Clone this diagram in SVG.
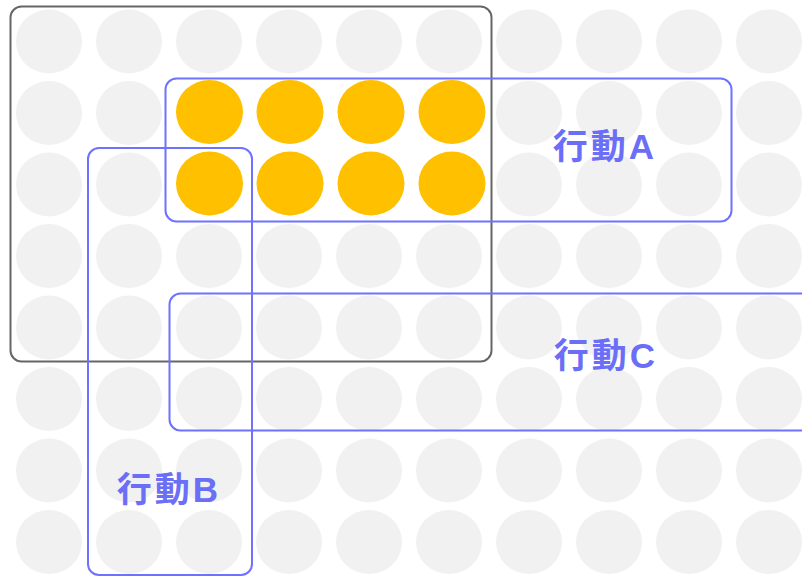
<svg xmlns="http://www.w3.org/2000/svg" width="802" height="576" viewBox="0 0 802 576">
<style>
.dot{fill:#f1f1f1}
.on{fill:#ffc000}
.box{fill:none;stroke:#6e72ff;stroke-width:2}
.outer{fill:none;stroke:#666;stroke-width:2}
.lbl{font-family:"Liberation Sans","Noto Sans CJK TC",sans-serif;font-weight:bold;font-size:35px;fill:#6b6ef7;text-anchor:middle;letter-spacing:3px}
</style>
<rect width="802" height="576" fill="#fff"/>
<g id="grid">
<g id="row1"><ellipse class="dot" cx="49" cy="41.5" rx="33" ry="32"/><ellipse class="dot" cx="129" cy="41.5" rx="33" ry="32"/><ellipse class="dot" cx="209" cy="41.5" rx="33" ry="32"/><ellipse class="dot" cx="289" cy="41.5" rx="33" ry="32"/><ellipse class="dot" cx="369" cy="41.5" rx="33" ry="32"/><ellipse class="dot" cx="449" cy="41.5" rx="33" ry="32"/><ellipse class="dot" cx="529" cy="41.5" rx="33" ry="32"/><ellipse class="dot" cx="609" cy="41.5" rx="33" ry="32"/><ellipse class="dot" cx="689" cy="41.5" rx="33" ry="32"/><ellipse class="dot" cx="769" cy="41.5" rx="33" ry="32"/></g>
<g id="row2"><ellipse class="dot" cx="49" cy="113" rx="33" ry="32"/><ellipse class="dot" cx="129" cy="113" rx="33" ry="32"/><ellipse class="on" cx="209.5" cy="112" rx="33.5" ry="32"/><ellipse class="on" cx="290" cy="112" rx="33.5" ry="32"/><ellipse class="on" cx="371" cy="112" rx="33.5" ry="32"/><ellipse class="on" cx="452" cy="112" rx="33.5" ry="32"/><ellipse class="dot" cx="529" cy="113" rx="33" ry="32"/><ellipse class="dot" cx="609" cy="113" rx="33" ry="32"/><ellipse class="dot" cx="689" cy="113" rx="33" ry="32"/><ellipse class="dot" cx="769" cy="113" rx="33" ry="32"/></g>
<g id="row3"><ellipse class="dot" cx="49" cy="184.5" rx="33" ry="32"/><ellipse class="dot" cx="129" cy="184.5" rx="33" ry="32"/><ellipse class="on" cx="209.5" cy="183.5" rx="33.5" ry="32"/><ellipse class="on" cx="290" cy="183.5" rx="33.5" ry="32"/><ellipse class="on" cx="371" cy="183.5" rx="33.5" ry="32"/><ellipse class="on" cx="452" cy="183.5" rx="33.5" ry="32"/><ellipse class="dot" cx="529" cy="184.5" rx="33" ry="32"/><ellipse class="dot" cx="609" cy="184.5" rx="33" ry="32"/><ellipse class="dot" cx="689" cy="184.5" rx="33" ry="32"/><ellipse class="dot" cx="769" cy="184.5" rx="33" ry="32"/></g>
<g id="row4"><ellipse class="dot" cx="49" cy="256" rx="33" ry="32"/><ellipse class="dot" cx="129" cy="256" rx="33" ry="32"/><ellipse class="dot" cx="209" cy="256" rx="33" ry="32"/><ellipse class="dot" cx="289" cy="256" rx="33" ry="32"/><ellipse class="dot" cx="369" cy="256" rx="33" ry="32"/><ellipse class="dot" cx="449" cy="256" rx="33" ry="32"/><ellipse class="dot" cx="529" cy="256" rx="33" ry="32"/><ellipse class="dot" cx="609" cy="256" rx="33" ry="32"/><ellipse class="dot" cx="689" cy="256" rx="33" ry="32"/><ellipse class="dot" cx="769" cy="256" rx="33" ry="32"/></g>
<g id="row5"><ellipse class="dot" cx="49" cy="327.5" rx="33" ry="32"/><ellipse class="dot" cx="129" cy="327.5" rx="33" ry="32"/><ellipse class="dot" cx="209" cy="327.5" rx="33" ry="32"/><ellipse class="dot" cx="289" cy="327.5" rx="33" ry="32"/><ellipse class="dot" cx="369" cy="327.5" rx="33" ry="32"/><ellipse class="dot" cx="449" cy="327.5" rx="33" ry="32"/><ellipse class="dot" cx="529" cy="327.5" rx="33" ry="32"/><ellipse class="dot" cx="609" cy="327.5" rx="33" ry="32"/><ellipse class="dot" cx="689" cy="327.5" rx="33" ry="32"/><ellipse class="dot" cx="769" cy="327.5" rx="33" ry="32"/></g>
<g id="row6"><ellipse class="dot" cx="49" cy="399" rx="33" ry="32"/><ellipse class="dot" cx="129" cy="399" rx="33" ry="32"/><ellipse class="dot" cx="209" cy="399" rx="33" ry="32"/><ellipse class="dot" cx="289" cy="399" rx="33" ry="32"/><ellipse class="dot" cx="369" cy="399" rx="33" ry="32"/><ellipse class="dot" cx="449" cy="399" rx="33" ry="32"/><ellipse class="dot" cx="529" cy="399" rx="33" ry="32"/><ellipse class="dot" cx="609" cy="399" rx="33" ry="32"/><ellipse class="dot" cx="689" cy="399" rx="33" ry="32"/><ellipse class="dot" cx="769" cy="399" rx="33" ry="32"/></g>
<g id="row7"><ellipse class="dot" cx="49" cy="470.5" rx="33" ry="32"/><ellipse class="dot" cx="129" cy="470.5" rx="33" ry="32"/><ellipse class="dot" cx="209" cy="470.5" rx="33" ry="32"/><ellipse class="dot" cx="289" cy="470.5" rx="33" ry="32"/><ellipse class="dot" cx="369" cy="470.5" rx="33" ry="32"/><ellipse class="dot" cx="449" cy="470.5" rx="33" ry="32"/><ellipse class="dot" cx="529" cy="470.5" rx="33" ry="32"/><ellipse class="dot" cx="609" cy="470.5" rx="33" ry="32"/><ellipse class="dot" cx="689" cy="470.5" rx="33" ry="32"/><ellipse class="dot" cx="769" cy="470.5" rx="33" ry="32"/></g>
<g id="row8"><ellipse class="dot" cx="49" cy="542" rx="33" ry="32"/><ellipse class="dot" cx="129" cy="542" rx="33" ry="32"/><ellipse class="dot" cx="209" cy="542" rx="33" ry="32"/><ellipse class="dot" cx="289" cy="542" rx="33" ry="32"/><ellipse class="dot" cx="369" cy="542" rx="33" ry="32"/><ellipse class="dot" cx="449" cy="542" rx="33" ry="32"/><ellipse class="dot" cx="529" cy="542" rx="33" ry="32"/><ellipse class="dot" cx="609" cy="542" rx="33" ry="32"/><ellipse class="dot" cx="689" cy="542" rx="33" ry="32"/><ellipse class="dot" cx="769" cy="542" rx="33" ry="32"/></g>
</g>
<g id="outer"><rect class="outer" x="10.5" y="6.5" width="481" height="355" rx="11"/></g>
<g id="actionA"><rect class="box" x="165.5" y="78.5" width="566" height="143" rx="11"/><text class="lbl" x="605" y="159">行動A</text></g>
<g id="actionB"><rect class="box" x="88" y="148" width="164" height="427" rx="11"/><text class="lbl" x="169" y="502">行動B</text></g>
<g id="actionC"><rect class="box" x="169.5" y="293.5" width="645" height="137" rx="11"/><text class="lbl" x="606" y="368">行動C</text></g>
<g id="connectors"/>
</svg>
